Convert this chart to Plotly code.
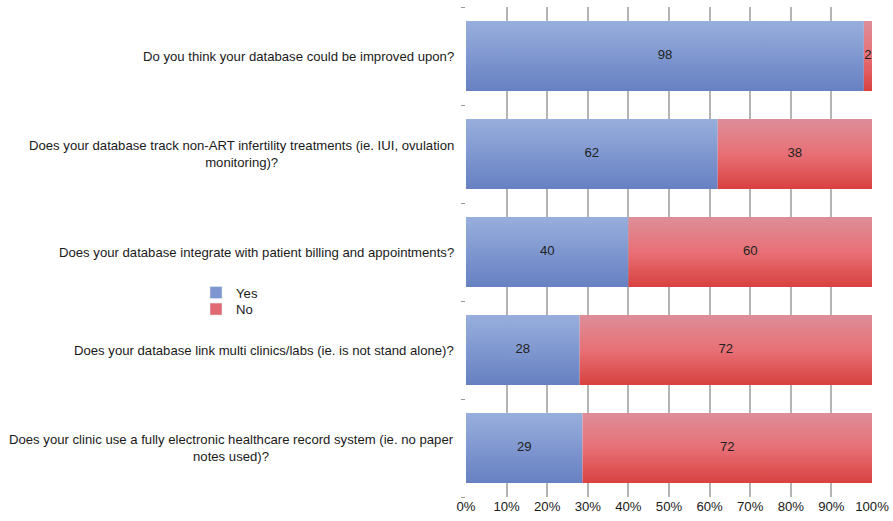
import plotly.graph_objects as go

# Survey questions, top to bottom
questions = [
    "Do you think your database could be improved upon?",
    "Does your database track non-ART infertility treatments (ie. IUI, ovulation<br>monitoring)?",
    "Does your database integrate with patient billing and appointments?",
    "Does your database link multi clinics/labs (ie. is not stand alone)?",
    "Does your clinic use a fully electronic healthcare record system (ie. no paper<br>notes used)?",
]
yes_values = [98, 62, 40, 28, 29]
no_values = [2, 38, 60, 72, 72]
series_names = ["Yes", "No"]
x_tick_values = [0, 10, 20, 30, 40, 50, 60, 70, 80, 90, 100]
x_tick_labels = [f"{v}%" for v in x_tick_values]

FONT = "Liberation Sans, Arial, Helvetica, sans-serif"
FONT_SIZE = 13.15
BAR_HALF = 0.357

# colour stops run from the bottom edge of a bar to its top edge
gradients = {
    "Yes": [[0, "#6680c2"], [1, "#98afdd"]],
    "No": [[0, "#d8413f"], [0.5, "#e87076"], [1, "#dd8e99"]],
}
legend_colors = {"Yes": "#7f96d0", "No": "#e06a72"}
legend_ids = {"Yes": "legend", "No": "legend2"}

fig = go.Figure()

# each row is normalised to 100 %
for i, (yv, nv) in enumerate(zip(yes_values, no_values)):
    total = yv + nv
    left = 0.0
    for name, val in zip(series_names, (yv, nv)):
        pct = val / total * 100.0
        right = left + pct
        fig.add_trace(go.Scatter(
            x=[left, right, right, left, left],
            y=[i - BAR_HALF, i - BAR_HALF, i + BAR_HALF, i + BAR_HALF, i - BAR_HALF],
            mode="lines", line=dict(width=0),
            fill="toself",
            fillgradient=dict(type="vertical", colorscale=gradients[name]),
            showlegend=False, hoverinfo="skip",
        ))
        fig.add_trace(go.Scatter(
            x=[(left + right) / 2], y=[i], mode="text", text=[str(val)],
            textfont=dict(family=FONT, size=FONT_SIZE, color="#222222"),
            showlegend=False, hoverinfo="skip",
        ))
        left = right

# legend entries (one legend box per series for tight spacing)
for name in series_names:
    fig.add_trace(go.Bar(
        x=[None], y=[None], orientation="h", name=name,
        marker=dict(color=legend_colors[name]),
        legend=legend_ids[name],
    ))

for i, q in enumerate(questions):
    fig.add_annotation(
        text=q, xref="paper", x=0, xshift=-10, xanchor="right",
        yref="y", y=i, yanchor="middle", align="center", showarrow=False,
        font=dict(family=FONT, size=FONT_SIZE, color="#1a1a1a"),
    )

legend_style = dict(
    xanchor="left", yanchor="middle",
    font=dict(family=FONT, size=FONT_SIZE, color="#1a1a1a"),
    bgcolor="rgba(0,0,0,0)", itemwidth=30,
)

fig.update_layout(
    width=893, height=521,
    margin=dict(l=466, r=21, t=7, b=24, autoexpand=False),
    paper_bgcolor="white", plot_bgcolor="white",
    font=dict(family=FONT, size=FONT_SIZE, color="#1a1a1a"),
    showlegend=True,
    legend=dict(x=-0.665, y=(497 - 293) / 490, **legend_style),
    legend2=dict(x=-0.665, y=(497 - 309.5) / 490, **legend_style),
    xaxis=dict(
        range=[0, 100], tickmode="array",
        tickvals=x_tick_values, ticktext=x_tick_labels,
        showgrid=True, gridcolor="#b4b4b4", gridwidth=1.5,
        zeroline=False, showline=False, ticks="", automargin=False,
        tickfont=dict(family=FONT, size=FONT_SIZE, color="#1a1a1a"),
    ),
    yaxis=dict(
        range=[len(questions) - 0.5, -0.5],
        tickvals=[k - 0.5 for k in range(len(questions) + 1)],
        showticklabels=False, ticks="outside", ticklen=4, tickcolor="#999999",
        showgrid=False, zeroline=False, showline=False, automargin=False,
    ),
)

fig.write_html("out.html")
